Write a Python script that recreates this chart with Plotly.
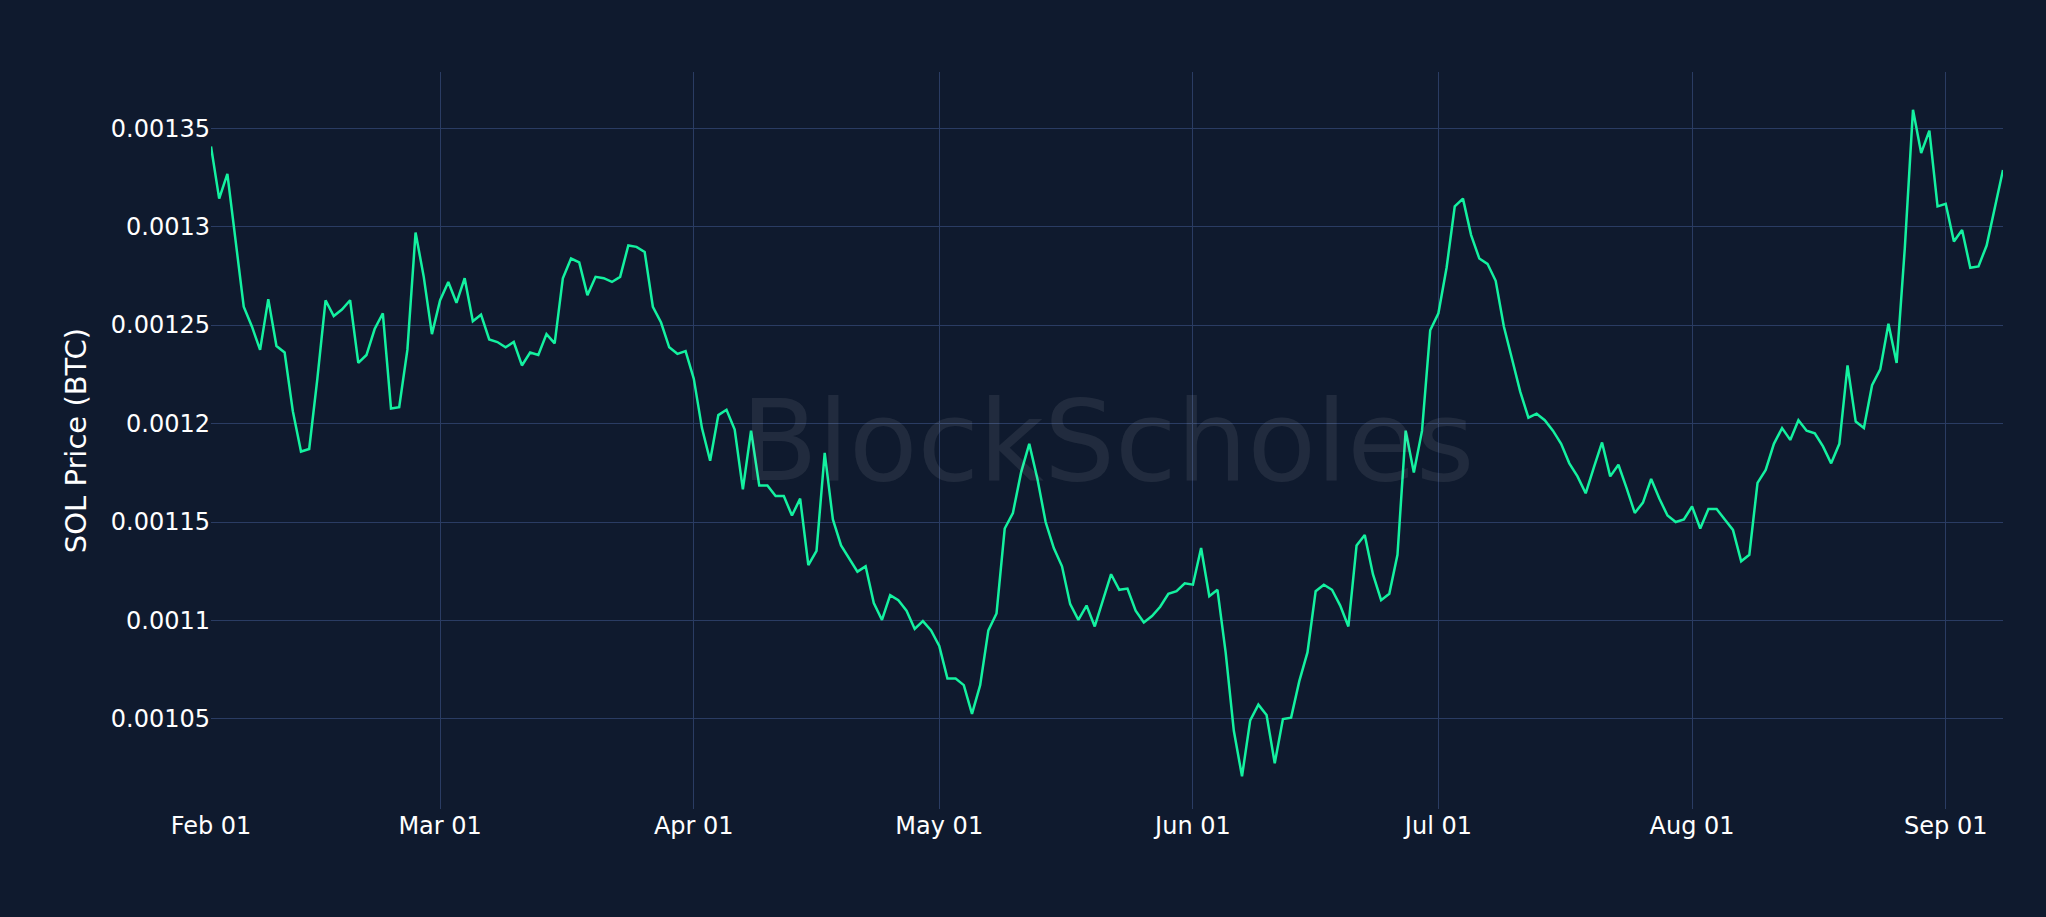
import plotly.graph_objects as go
import pandas as pd

start_date = "2023-02-01"
# SOL/BTC daily close
sol_btc = [
    0.0013407, 0.0013142, 0.0013268, 0.0012924, 0.0012593, 0.0012493, 0.0012374, 0.0012632,
    0.0012394, 0.0012361, 0.0012063, 0.0011858, 0.0011871, 0.0012228, 0.0012626, 0.0012546,
    0.0012579, 0.0012626, 0.0012308, 0.0012348, 0.0012480, 0.0012560, 0.0012076, 0.0012083,
    0.0012374, 0.0012970, 0.0012745, 0.0012454, 0.0012626, 0.0012719, 0.0012613, 0.0012738,
    0.0012520, 0.0012553, 0.0012427, 0.0012414, 0.0012387, 0.0012414, 0.0012295, 0.0012361,
    0.0012348, 0.0012454, 0.0012407, 0.0012738, 0.0012838, 0.0012818, 0.0012652, 0.0012745,
    0.0012738, 0.0012719, 0.0012745, 0.0012904, 0.0012897, 0.0012871, 0.0012593, 0.0012513,
    0.0012387, 0.0012354, 0.0012368, 0.0012228, 0.0011977, 0.0011811, 0.0012043, 0.0012070,
    0.0011970, 0.0011666, 0.0011964, 0.0011685, 0.0011685, 0.0011632, 0.0011632, 0.0011533,
    0.0011619, 0.0011281, 0.0011354, 0.0011851, 0.0011513, 0.0011381, 0.0011315, 0.0011248,
    0.0011275, 0.0011089, 0.0011003, 0.0011129, 0.0011103, 0.0011050, 0.0010957, 0.0010997,
    0.0010950, 0.0010871, 0.0010705, 0.0010705, 0.0010672, 0.0010526, 0.0010672, 0.0010950,
    0.0011036, 0.0011467, 0.0011546, 0.0011752, 0.0011897, 0.0011719, 0.0011500, 0.0011368,
    0.0011275, 0.0011083, 0.0011003, 0.0011076, 0.0010970, 0.0011103, 0.0011235, 0.0011156,
    0.0011162, 0.0011050, 0.0010990, 0.0011023, 0.0011070, 0.0011136, 0.0011149, 0.0011189,
    0.0011182, 0.0011368, 0.0011123, 0.0011156, 0.0010838, 0.0010440, 0.0010209, 0.0010493,
    0.0010573, 0.0010520, 0.0010275, 0.0010500, 0.0010507, 0.0010692, 0.0010838, 0.0011149,
    0.0011182, 0.0011156, 0.0011076, 0.0010970, 0.0011381, 0.0011434, 0.0011235, 0.0011103,
    0.0011136, 0.0011334, 0.0011964, 0.0011752, 0.0011964, 0.0012474, 0.0012560, 0.0012791,
    0.0013103, 0.0013142, 0.0012957, 0.0012838, 0.0012811, 0.0012725, 0.0012493, 0.0012328,
    0.0012162, 0.0012030, 0.0012050, 0.0012017, 0.0011964, 0.0011897, 0.0011798, 0.0011732,
    0.0011646, 0.0011778, 0.0011904, 0.0011732, 0.0011791, 0.0011672, 0.0011546, 0.0011599,
    0.0011719, 0.0011619, 0.0011533, 0.0011500, 0.0011513, 0.0011579, 0.0011467, 0.0011566,
    0.0011566, 0.0011513, 0.0011460, 0.0011301, 0.0011334, 0.0011699, 0.0011765, 0.0011897,
    0.0011977, 0.0011917, 0.0012017, 0.0011964, 0.0011950, 0.0011884, 0.0011798, 0.0011897,
    0.0012295, 0.0012010, 0.0011977, 0.0012195, 0.0012275, 0.0012507, 0.0012308, 0.0012891,
    0.0013593, 0.0013374, 0.0013487, 0.0013103, 0.0013116, 0.0012924, 0.0012983, 0.0012791,
    0.0012798, 0.0012904, 0.0013089, 0.0013288,
]
dates = pd.date_range(start_date, periods=len(sol_btc), freq="D")

bg = "#0f1a2e"
grid = "#2a3c63"

fig = go.Figure()
fig.add_trace(go.Scatter(x=dates, y=sol_btc, mode="lines",
                         line=dict(color="#14f1a0", width=2.5), showlegend=False))

# watermark
fig.add_annotation(text="BlockScholes", xref="paper", yref="paper", x=0.5, y=0.5,
                   showarrow=False, font=dict(size=112, color="rgba(255,255,255,0.08)", family="DejaVu Sans"))

fig.update_layout(
    paper_bgcolor=bg, plot_bgcolor=bg,
    width=2046, height=917,
    margin=dict(l=211, r=43, t=72, b=108),
    font=dict(family="DejaVu Sans", color="white", size=24),
    xaxis=dict(tickformat="%b %d", dtick="M1", gridcolor=grid, showline=False,
               zeroline=False, range=["2023-02-01", "2023-09-08"], ticks=""),
    yaxis=dict(title=dict(text="SOL Price (BTC)", font=dict(size=29)), gridcolor=grid,
               dtick=0.00005, range=[0.0010043, 0.0013785], zeroline=False),
)

fig.write_html("out.html", config={"displayModeBar": False},
               post_script="document.body.style.margin='0';document.body.style.overflow='hidden';")
